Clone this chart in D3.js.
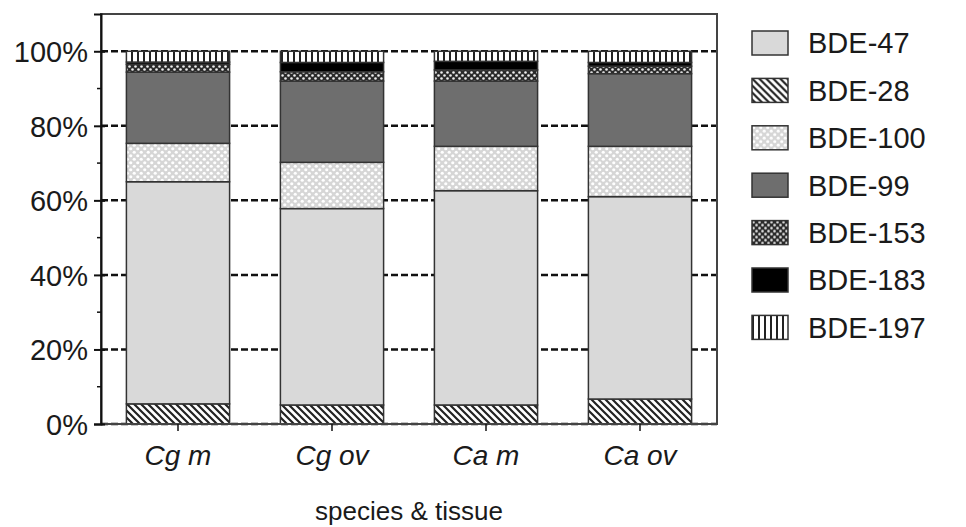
<!DOCTYPE html>
<html>
<head>
<meta charset="utf-8">
<script src="https://cdn.jsdelivr.net/npm/d3@7"></script>
<style>
  body { margin: 0; background: #fff; }
  text { font-family: "Liberation Sans", Arial, sans-serif; fill: #1a1a1a; }
</style>
</head>
<body>
<div id="chart-container"></div>
<script>
// stacked percentage bars, one per species & tissue
const svgWidth = 966;
const svgHeight = 527;
const margin = { top: 14, right: 249, bottom: 103, left: 101 };
const width = svgWidth - margin.left - margin.right;
const height = svgHeight - margin.top - margin.bottom;

// data (percent of each congener)
const groups = ["Cg m", "Cg ov", "Ca m", "Ca ov"];
const congeners = ["BDE-28", "BDE-47", "BDE-100", "BDE-99", "BDE-153", "BDE-183", "BDE-197"];
const legendOrder = ["BDE-47", "BDE-28", "BDE-100", "BDE-99", "BDE-153", "BDE-183", "BDE-197"];
const bde28 = [5.4, 5.1, 5.1, 6.7];
const bde47 = [59.6, 52.7, 57.5, 54.3];
const bde100 = [10.3, 12.4, 11.9, 13.5];
const bde99 = [19.1, 21.8, 17.5, 19.5];
const bde153 = [2.1, 2.5, 3.0, 2.0];
const bde183 = [0.6, 2.5, 2.3, 1.0];
const bde197 = [2.9, 3.0, 2.7, 3.0];
const yTicks = [0, 20, 40, 60, 80, 100];
const yMinor = [10, 30, 50, 70, 90];

const valuesByCongener = {
  "BDE-28": bde28, "BDE-47": bde47, "BDE-100": bde100, "BDE-99": bde99,
  "BDE-153": bde153, "BDE-183": bde183, "BDE-197": bde197
};
// table for d3.stack
const table = groups.map((g, i) => {
  const row = { group: g };
  congeners.forEach(c => row[c] = valuesByCongener[c][i]);
  return row;
});

const svg = d3.select("#chart-container")
  .append("svg")
  .attr("width", svgWidth)
  .attr("height", svgHeight);

// patterns for the fills
const defs = svg.append("defs");
function addPattern(id, w, h, bg, draw) {
  const p = defs.append("pattern")
    .attr("id", id)
    .attr("patternUnits", "userSpaceOnUse")
    .attr("width", w).attr("height", h);
  p.append("rect").attr("width", w).attr("height", h).attr("fill", bg);
  draw(p);
}
addPattern("diag", 7, 7, "#fff", p => {
  p.append("path").attr("d", "M-2,-2 L9,9 M-2,5 L2,9 M5,-2 L9,2")
    .attr("stroke", "#222").attr("stroke-width", 2.2);
});
addPattern("dotsLight", 7, 7, "#d6d6d6", p => {
  p.append("circle").attr("cx", 1.75).attr("cy", 1.75).attr("r", 1.6).attr("fill", "#fff");
  p.append("circle").attr("cx", 5.25).attr("cy", 5.25).attr("r", 1.6).attr("fill", "#fff");
});
addPattern("dotsDark", 6, 6, "#2a2a2a", p => {
  p.append("circle").attr("cx", 1.5).attr("cy", 1.5).attr("r", 1.3).attr("fill", "#eee");
  p.append("circle").attr("cx", 4.5).attr("cy", 4.5).attr("r", 1.3).attr("fill", "#eee");
});
addPattern("vlines", 6, 6, "#fff", p => {
  p.append("rect").attr("x", 0).attr("y", 0).attr("width", 2).attr("height", 6).attr("fill", "#222");
});

const fills = {
  "BDE-47": "#d9d9d9",
  "BDE-28": "url(#diag)",
  "BDE-100": "url(#dotsLight)",
  "BDE-99": "#6e6e6e",
  "BDE-153": "url(#dotsDark)",
  "BDE-183": "#000",
  "BDE-197": "url(#vlines)"
};

const g = svg.append("g")
  .attr("transform", `translate(${margin.left},${margin.top})`);

const x = d3.scaleBand()
  .domain(groups)
  .range([0, width])
  .paddingInner(0.33)
  .paddingOuter(0.165);

const y = d3.scaleLinear()
  .domain([0, 110])
  .range([height, 0]);

// dashed grid lines behind the bars
g.append("g")
  .selectAll("line")
  .data(yTicks)
  .join("line")
  .attr("x1", 0)
  .attr("x2", width)
  .attr("y1", d => y(d))
  .attr("y2", d => y(d))
  .attr("stroke", "#111")
  .attr("stroke-width", 2.5)
  .attr("stroke-dasharray", "7,3");

// stacked bars
const stacked = d3.stack().keys(congeners)(table);
g.append("g")
  .selectAll("g")
  .data(stacked)
  .join("g")
  .attr("fill", d => fills[d.key])
  .selectAll("rect")
  .data(d => d)
  .join("rect")
  .attr("x", d => x(d.data.group))
  .attr("y", d => y(d[1]))
  .attr("width", x.bandwidth())
  .attr("height", d => y(d[0]) - y(d[1]))
  .attr("stroke", "#333")
  .attr("stroke-width", 1.5);

// frame
g.append("rect")
  .attr("x", 0).attr("y", 0)
  .attr("width", width).attr("height", height)
  .attr("fill", "none")
  .attr("stroke", "#444")
  .attr("stroke-width", 2);

// y axis
const yAxis = g.append("g")
  .call(d3.axisLeft(y).tickValues(yTicks).tickFormat(d => d + "%").tickSize(7).tickPadding(6));
yAxis.select(".domain").attr("stroke", "#111").attr("stroke-width", 2);
yAxis.selectAll(".tick line").attr("stroke", "#111").attr("stroke-width", 2).attr("x2", -7).attr("x1", 4);
yAxis.selectAll("text").style("font-size", "29px").attr("dy", "0.36em").attr("fill", "#1a1a1a");

g.append("g")
  .selectAll("line")
  .data(yMinor)
  .join("line")
  .attr("x1", -4).attr("x2", 0)
  .attr("y1", d => y(d)).attr("y2", d => y(d))
  .attr("stroke", "#111").attr("stroke-width", 1.5);

// x axis
const xAxis = g.append("g")
  .attr("transform", `translate(0,${height})`)
  .call(d3.axisBottom(x).tickSize(7).tickPadding(14));
xAxis.select(".domain").remove();
xAxis.selectAll(".tick line").attr("stroke", "#111").attr("stroke-width", 1.5);
xAxis.selectAll("text")
  .style("font-size", "28px")
  .style("font-style", "italic")
  .attr("fill", "#1a1a1a");

g.append("text")
  .attr("x", width / 2)
  .attr("y", height + 96)
  .attr("text-anchor", "middle")
  .style("font-size", "26px")
  .text("species & tissue");

// legend
const legend = svg.append("g")
  .attr("transform", "translate(752,31)");
const item = legend.selectAll("g")
  .data(legendOrder)
  .join("g")
  .attr("transform", (d, i) => `translate(0,${i * 47.4})`);
item.append("rect")
  .attr("width", 36)
  .attr("height", 24)
  .attr("fill", d => fills[d])
  .attr("stroke", "#333")
  .attr("stroke-width", 1.5);
item.append("text")
  .attr("x", 56)
  .attr("y", 12)
  .attr("dy", "0.36em")
  .style("font-size", "29px")
  .text(d => d);
</script>
</body>
</html>
